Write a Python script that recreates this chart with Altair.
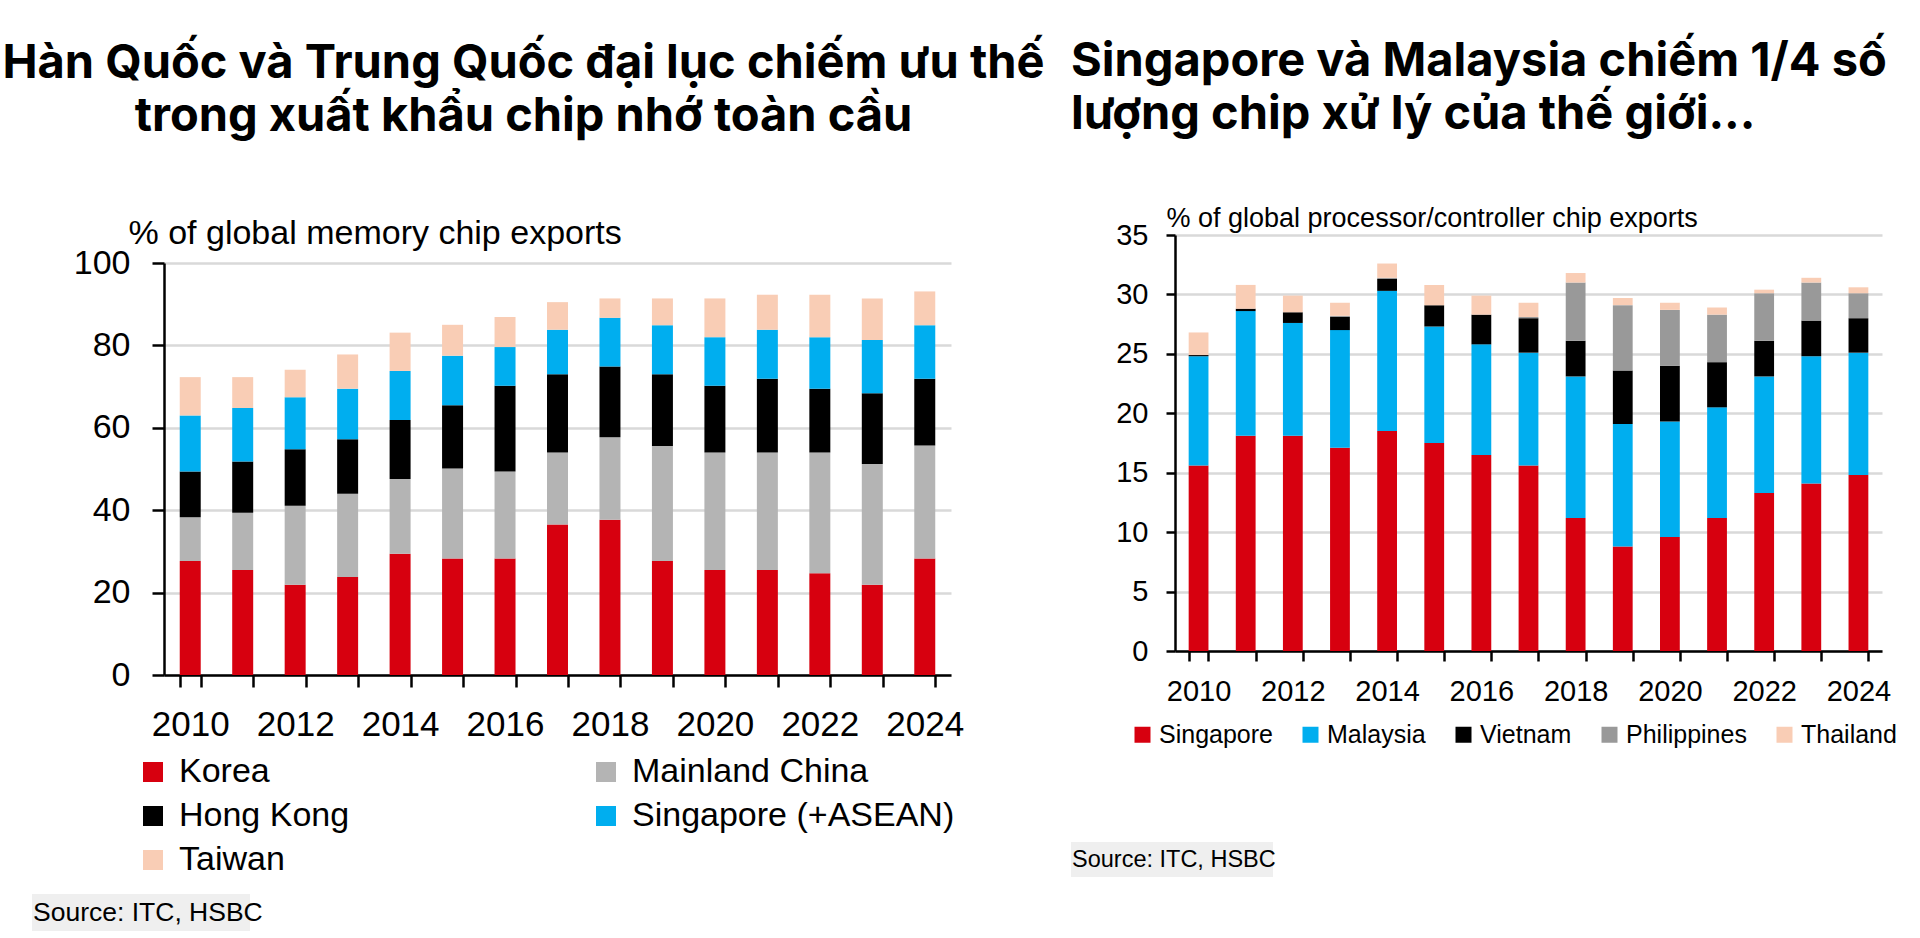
import altair as alt
import pandas as pd

years = list(range(2010, 2025))

# Left chart: % of global memory chip exports (segment values)
mem_series = ["Korea", "Mainland China", "Hong Kong", "Singapore (+ASEAN)", "Taiwan"]
mem_colors = ["#d7000f", "#b4b4b4", "#000000", "#00aeef", "#f9cdb5"]
mem_korea = [27.7, 25.5, 21.9, 23.8, 29.4, 28.3, 28.3, 36.5, 37.7, 27.7, 25.5, 25.5, 24.7, 21.9, 28.3]
mem_china = [10.6, 13.9, 19.2, 20.2, 18.2, 21.8, 21.1, 17.5, 20.0, 27.9, 28.5, 28.5, 29.3, 29.3, 27.4]
mem_hk = [11.1, 12.4, 13.7, 13.2, 14.3, 15.4, 20.8, 19.0, 17.2, 17.4, 16.2, 17.9, 15.5, 17.2, 16.2]
mem_sg = [13.6, 13.0, 12.6, 12.3, 11.9, 12.0, 9.4, 10.8, 11.8, 11.9, 11.8, 11.9, 12.5, 12.9, 13.0]
mem_tw = [9.3, 7.5, 6.7, 8.3, 9.3, 7.5, 7.3, 6.7, 4.7, 6.5, 9.4, 8.5, 10.3, 10.1, 8.2]

# Right chart: % of global processor/controller chip exports (segment values)
proc_series = ["Singapore", "Malaysia", "Vietnam", "Philippines", "Thailand"]
proc_colors = ["#d7000f", "#00aeef", "#000000", "#999999", "#f9cdb5"]
proc_sg = [15.6, 18.1, 18.1, 17.1, 18.5, 17.5, 16.5, 15.6, 11.2, 8.8, 9.6, 11.2, 13.3, 14.1, 14.8]
proc_my = [9.2, 10.5, 9.5, 9.9, 11.8, 9.8, 9.3, 9.5, 11.9, 10.3, 9.7, 9.3, 9.8, 10.7, 10.3]
proc_vn = [0.1, 0.2, 0.9, 1.1, 1.0, 1.8, 2.5, 2.9, 3.0, 4.5, 4.7, 3.8, 3.0, 3.0, 2.9]
proc_ph = [0.0, 0.0, 0.0, 0.1, 0.1, 0.0, 0.0, 0.1, 4.9, 5.5, 4.7, 4.0, 4.0, 3.2, 2.1]
proc_th = [1.9, 2.0, 1.4, 1.1, 1.2, 1.7, 1.6, 1.2, 0.8, 0.6, 0.6, 0.6, 0.3, 0.4, 0.5]

left_title = ["Hàn Quốc và Trung Quốc đại lục chiếm ưu thế", "trong xuất khẩu chip nhớ toàn cầu"]
right_title = ["Singapore và Malaysia chiếm 1/4 số", "lượng chip xử lý của thế giới..."]
left_axis_title = "% of global memory chip exports"
right_axis_title = "% of global processor/controller chip exports"
source_text = "Source: ITC, HSBC"


def long_df(series, columns):
    rows = []
    for rank, (name, vals) in enumerate(zip(series, columns)):
        for y, v in zip(years, vals):
            rows.append({"year": y, "series": name, "share": v, "rank": rank})
    return pd.DataFrame(rows)


mem_df = long_df(mem_series, [mem_korea, mem_china, mem_hk, mem_sg, mem_tw])
proc_df = long_df(proc_series, [proc_sg, proc_my, proc_vn, proc_ph, proc_th])

FONT = "Liberation Sans, Arial, sans-serif"
TITLE_FONT = "Inter"
GRID = "#d9d9d9"
SRC_BG = "#efefef"
EVEN = "datum.value % 2 == 0 ? datum.label : ''"


def source_note(x0, x1, y0, y1, size):
    note = alt.Data(values=[{"t": source_text}])
    box = alt.Chart(note).mark_rect(color=SRC_BG).encode(
        x=alt.value(x0), x2=alt.value(x1), y=alt.value(y0), y2=alt.value(y1))
    txt = alt.Chart(note).mark_text(
        align="left", baseline="middle", font=FONT, fontSize=size, color="black"
    ).encode(text="t:N", x=alt.value(x0 + 1), y=alt.value((y0 + y1) / 2))
    return box, txt


# ---------------- left chart ----------------
mem_bars = alt.Chart(mem_df).mark_bar().encode(
    x=alt.X("year:O", scale=alt.Scale(paddingInner=0.6, paddingOuter=0.3),
            axis=alt.Axis(title=None, labelAngle=0, labelExpr=EVEN, tickBand="extent",
                          tickSize=12, tickColor="black", tickWidth=2.5,
                          domainColor="black", domainWidth=2.5,
                          labelFont=FONT, labelFontSize=35, labelColor="black",
                          labelPadding=20)),
    y=alt.Y("share:Q", stack="zero",
            scale=alt.Scale(domain=[0, 100], range=[440, 28], nice=False),
            axis=alt.Axis(values=[0, 20, 40, 60, 80, 100], title=left_axis_title,
                          titleAngle=0, titleAlign="left", titleBaseline="alphabetic",
                          titleX=-36, titleY=8, titleFont=FONT, titleFontSize=34,
                          titleFontWeight="normal", titleColor="black",
                          grid=True, gridColor=GRID, gridWidth=2.5,
                          domainColor="black", domainWidth=2.5,
                          tickColor="black", tickSize=12, tickWidth=2.5,
                          labelFont=FONT, labelFontSize=34, labelColor="black",
                          labelPadding=22)),
    color=alt.Color("series:N", scale=alt.Scale(domain=mem_series, range=mem_colors),
                    legend=alt.Legend(title=None, orient="none", legendX=-28, legendY=520,
                                      direction="horizontal", columns=2, symbolType="square",
                                      symbolSize=400, symbolStrokeWidth=0, labelFont=FONT,
                                      labelFontSize=34, labelColor="black", labelOffset=9,
                                      rowPadding=10, columnPadding=239, labelLimit=600)),
    order=alt.Order("rank:Q", sort="ascending"),
)

mem_box, mem_src = source_note(-132, 86, 659, 696, 26.5)

left = alt.layer(mem_bars, mem_box, mem_src).properties(
    width=787, height=440,
    title=alt.Title(left_title, anchor="middle", frame="group", dx=-34, font=TITLE_FONT,
                    fontSize=47, fontWeight="bold", color="black", lineHeight=53, offset=75),
)

# ---------------- right chart ----------------
proc_bars = alt.Chart(proc_df).mark_bar().encode(
    x=alt.X("year:O", scale=alt.Scale(paddingInner=0.58, paddingOuter=0.29),
            axis=alt.Axis(title=None, labelAngle=0, labelExpr=EVEN, tickBand="extent",
                          tickSize=10, tickColor="black", tickWidth=2.5,
                          domainColor="black", domainWidth=2.5,
                          labelFont=FONT, labelFontSize=29, labelColor="black",
                          labelPadding=16)),
    y=alt.Y("share:Q", stack="zero",
            scale=alt.Scale(domain=[0, 35], nice=False),
            axis=alt.Axis(values=[0, 5, 10, 15, 20, 25, 30, 35], title=right_axis_title,
                          titleAngle=0, titleAlign="left", titleBaseline="alphabetic",
                          titleX=-9, titleY=-9, titleFont=FONT, titleFontSize=27,
                          titleFontWeight="normal", titleColor="black",
                          grid=True, gridColor=GRID, gridWidth=2.5,
                          domainColor="black", domainWidth=2.5,
                          tickColor="black", tickSize=9, tickWidth=2.5,
                          labelFont=FONT, labelFontSize=29, labelColor="black",
                          labelPadding=18)),
    color=alt.Color("series:N", scale=alt.Scale(domain=proc_series, range=proc_colors),
                    legend=alt.Legend(title=None, orient="none", legendX=-45, legendY=487,
                                      direction="horizontal", columns=5, symbolType="square",
                                      symbolSize=256, symbolStrokeWidth=0, labelFont=FONT,
                                      labelFontSize=25, labelColor="black", labelOffset=4,
                                      columnPadding=25, labelLimit=600)),
    order=alt.Order("rank:Q", sort="ascending"),
)

proc_box, proc_src = source_note(-104, 98, 607, 642, 23.5)

right = alt.layer(proc_bars, proc_box, proc_src).properties(
    width=707, height=416,
    title=alt.Title(right_title, anchor="start", align="left", frame="group", dx=-104,
                    font=TITLE_FONT, fontSize=47, fontWeight="bold", color="black",
                    lineHeight=53, offset=65),
)

chart = alt.hconcat(left, right, spacing=224, bounds="flush").resolve_scale(
    color="independent"
).properties(
    autosize=alt.AutoSizeParams(type="none"),
    padding={"left": 164, "top": 235, "right": 1756, "bottom": 703},
    background="white",
).configure_view(strokeWidth=0)

chart.save("out.html", embed_options={"renderer": "svg", "actions": False})
